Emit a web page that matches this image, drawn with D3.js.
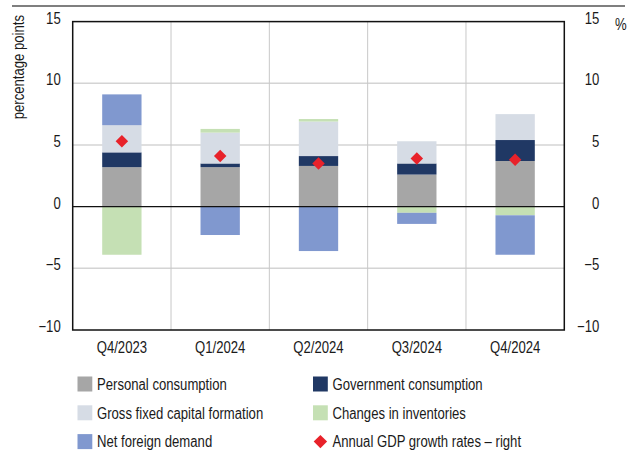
<!DOCTYPE html>
<meta charset="utf-8">
<script src="https://d3js.org/d3.v7.min.js"></script>
<style>
  body { margin: 0; background: #fff; }
  text { font-family: "Liberation Sans", Arial, sans-serif; }
</style>
<div id="chart"></div>
<script>
  // data
  var quarters = ["Q4/2023", "Q1/2024", "Q2/2024", "Q3/2024", "Q4/2024"];
  var personal = [3.2, 3.2, 3.3, 2.6, 3.7];
  var government = [1.2, 0.3, 0.8, 0.9, 1.7];
  var gfcf = [2.2, 2.5, 2.8, 1.8, 2.1];
  var inventories = [-3.9, 0.3, 0.2, -0.5, -0.7];
  var netForeign = [2.5, -2.3, -3.6, -0.9, -3.2];
  var gdpGrowth = [5.3, 4.1, 3.5, 3.9, 3.8];
  var yTicks = [-10, -5, 0, 5, 10, 15];

  var seriesNames = ["Personal consumption", "Government consumption", "Gross fixed capital formation",
    "Changes in inventories", "Net foreign demand"];
  var seriesVals = [personal, government, gfcf, inventories, netForeign];
  var colors = ["#a6a6a6", "#203864", "#d6dce5", "#c5e0b4", "#8098cf"];

  var W = 627, H = 464;
  var margin = {top: 21.6, right: 62.7, bottom: 134, left: 72.7};
  var width = W - margin.left - margin.right,
      height = H - margin.top - margin.bottom;
  var K = 0.82; // horizontal squeeze to mimic a condensed face
  var ink = "#1a1a1a";

  // squeeze text horizontally around its own x position
  function condense(sel) {
    sel.each(function() {
      var t = d3.select(this);
      var x0 = +t.attr("x") || 0;
      t.attr("x", x0 / K).attr("transform", "scale(" + K + ",1)");
    });
  }

  var svg = d3.select("#chart").append("svg")
    .attr("width", W).attr("height", H);

  // top rule
  svg.append("line")
    .attr("x1", 12).attr("x2", 625).attr("y1", 6).attr("y2", 6)
    .attr("stroke", "#555").attr("stroke-width", 1.5);

  var g = svg.append("g").attr("transform", "translate(" + margin.left + "," + margin.top + ")");

  var x = d3.scaleBand().domain(quarters).range([0, width]);
  var y = d3.scaleLinear().domain([-10, 15]).range([height, 0]);
  var yRight = d3.scaleLinear().domain([-10, 15]).range([height, 0]);

  // table for stacking
  var table = quarters.map(function(q, i) {
    var row = {q: q};
    seriesNames.forEach(function(s, j) { row[s] = seriesVals[j][i]; });
    return row;
  });
  var stacked = d3.stack().keys(seriesNames).offset(d3.stackOffsetDiverging)(table);

  // gridlines
  g.append("g").selectAll("line")
    .data([-5, 5, 10])
    .enter().append("line")
      .attr("x1", 0).attr("x2", width)
      .attr("y1", function(d) { return y(d); }).attr("y2", function(d) { return y(d); })
      .attr("stroke", "#d4d4d4").attr("stroke-width", 1.5);
  g.append("g").selectAll("line")
    .data(quarters.slice(1))
    .enter().append("line")
      .attr("x1", function(d) { return x(d); }).attr("x2", function(d) { return x(d); })
      .attr("y1", 0).attr("y2", height)
      .attr("stroke", "#c8c8c8").attr("stroke-width", 1);

  // bars
  var barW = x.bandwidth() * 0.4;
  g.append("g").selectAll("g")
    .data(stacked)
    .enter().append("g")
      .attr("fill", function(d, i) { return colors[i]; })
    .selectAll("rect")
    .data(function(d) { return d; })
    .enter().append("rect")
      .attr("x", function(d) { return x(d.data.q) + (x.bandwidth() - barW) / 2; })
      .attr("width", barW)
      .attr("y", function(d) { return y(Math.max(d[0], d[1])); })
      .attr("height", function(d) { return Math.abs(y(d[0]) - y(d[1])); });

  // zero line and frame
  g.append("line")
    .attr("x1", 0).attr("x2", width).attr("y1", y(0)).attr("y2", y(0))
    .attr("stroke", "#111").attr("stroke-width", 1.2);
  g.append("rect")
    .attr("x", 0).attr("y", 0).attr("width", width).attr("height", height)
    .attr("fill", "none").attr("stroke", "#111").attr("stroke-width", 1.5);

  // GDP diamonds (right axis)
  var diamond = d3.symbol().type(d3.symbolSquare).size(78);
  g.append("g").selectAll("path")
    .data(gdpGrowth)
    .enter().append("path")
      .attr("d", diamond)
      .attr("fill", "#e8222a")
      .attr("transform", function(d, i) {
        return "translate(" + (x(quarters[i]) + x.bandwidth() / 2) + "," + yRight(d) + ") rotate(45)";
      });

  function fmt(d) { return d < 0 ? "\u2212" + Math.abs(d) : String(d); }

  // axes
  var yAxisL = g.append("g").call(d3.axisLeft(y).tickValues(yTicks).tickSize(0).tickPadding(12).tickFormat(fmt));
  var yAxisR = g.append("g").attr("transform", "translate(" + width + ",0)")
    .call(d3.axisRight(yRight).tickValues(yTicks).tickSize(0).tickPadding(35).tickFormat(fmt));
  yAxisR.selectAll("text").attr("text-anchor", "end");
  var xAxis = g.append("g").attr("transform", "translate(0," + height + ")")
    .call(d3.axisBottom(x).tickSize(0).tickPadding(12));
  [yAxisL, yAxisR, xAxis].forEach(function(a) {
    a.attr("font-family", null).attr("font-size", null);
    a.select(".domain").remove();
    a.selectAll("text").style("font-size", "16px").attr("fill", ink);
    condense(a.selectAll("text"));
  });
  yAxisL.selectAll("text").attr("dy", "0.1em");
  yAxisR.selectAll("text").attr("dy", "0.1em");

  // axis titles
  svg.append("g").attr("transform", "translate(24,15) rotate(-90)")
    .append("text")
      .attr("text-anchor", "end")
      .attr("fill", ink)
      .style("font-size", "16px")
      .text("percentage points")
      .call(condense);
  svg.append("g").attr("transform", "translate(615,30)")
    .append("text")
      .attr("fill", ink)
      .style("font-size", "16px")
      .text("%")
      .call(condense);

  // legend
  var legendItems = [
    {name: "Personal consumption", color: colors[0], col: 0, row: 0},
    {name: "Government consumption", color: colors[1], col: 1, row: 0},
    {name: "Gross fixed capital formation", color: colors[2], col: 0, row: 1},
    {name: "Changes in inventories", color: colors[3], col: 1, row: 1},
    {name: "Net foreign demand", color: colors[4], col: 0, row: 2},
    {name: "Annual GDP growth rates \u2013 right", color: "#e8222a", col: 1, row: 2, diamond: true}
  ];
  var legend = svg.append("g").selectAll("g")
    .data(legendItems)
    .enter().append("g")
      .attr("transform", function(d) {
        return "translate(" + (d.col ? 313 : 77.5) + "," + (384 + d.row * 28.8) + ")";
      });
  legend.filter(function(d) { return !d.diamond; }).append("rect")
    .attr("x", 0).attr("y", -7.5).attr("width", 14.8).attr("height", 15)
    .attr("fill", function(d) { return d.color; });
  legend.filter(function(d) { return d.diamond; }).append("path")
    .attr("d", d3.symbol().type(d3.symbolSquare).size(90))
    .attr("transform", "translate(7.4,0) rotate(45)")
    .attr("fill", function(d) { return d.color; });
  legend.append("text")
    .attr("x", 19.5).attr("y", 0).attr("dy", "0.36em")
    .attr("fill", ink)
    .style("font-size", "16px")
    .text(function(d) { return d.name; })
    .call(condense);
</script>
